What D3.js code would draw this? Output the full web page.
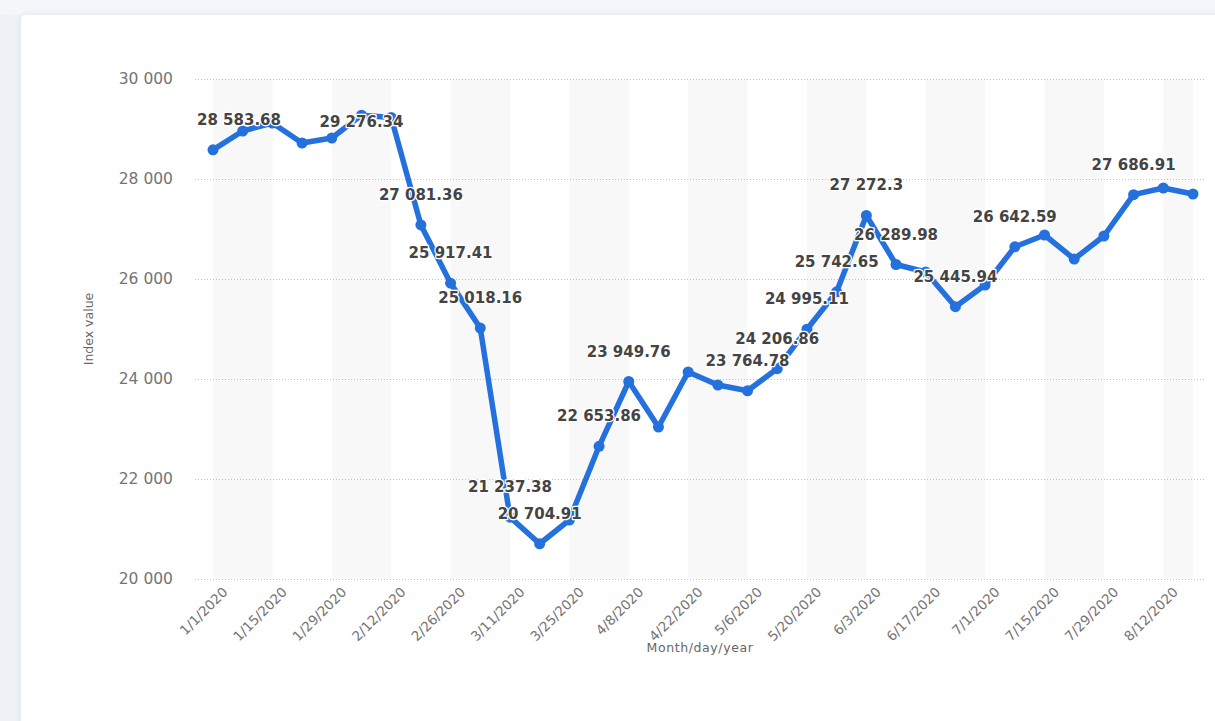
<!DOCTYPE html>
<html>
<head>
<meta charset="utf-8">
<script src="https://cdn.jsdelivr.net/npm/d3@7"></script>
<style>
  body { margin: 0; background: #eef2f7; }
  svg { display: block; }
</style>
</head>
<body>
<div id="my_dataviz"></div>
<script>
// weekly observations, 2020
var dates = ["1/1/2020","1/8/2020","1/15/2020","1/22/2020","1/29/2020","2/5/2020","2/12/2020","2/19/2020",
  "2/26/2020","3/4/2020","3/11/2020","3/18/2020","3/25/2020","4/1/2020","4/8/2020","4/15/2020",
  "4/22/2020","4/29/2020","5/6/2020","5/13/2020","5/20/2020","5/27/2020","6/3/2020","6/10/2020",
  "6/17/2020","6/24/2020","7/1/2020","7/8/2020","7/15/2020","7/22/2020","7/29/2020","8/5/2020",
  "8/12/2020","8/19/2020"];
var values = [28583.68, 28960, 29120, 28720, 28820, 29276.34, 29230, 27081.36,
  25917.41, 25018.16, 21237.38, 20704.91, 21180, 22653.86, 23949.76, 23040,
  24140, 23880, 23764.78, 24206.86, 24995.11, 25742.65, 27272.3, 26289.98,
  26140, 25445.94, 25880, 26642.59, 26880, 26400, 26860, 27686.91,
  27820, 27700];
// points whose value label is visible
var labeled = [0, 5, 7, 8, 9, 10, 11, 13, 14, 18, 19, 20, 21, 22, 23, 25, 27, 31];
var tickLabels = ["1/1/2020","1/15/2020","1/29/2020","2/12/2020","2/26/2020","3/11/2020","3/25/2020",
  "4/8/2020","4/22/2020","5/6/2020","5/20/2020","6/3/2020","6/17/2020","7/1/2020","7/15/2020",
  "7/29/2020","8/12/2020"];
var yTicks = [20000, 22000, 24000, 26000, 28000, 30000];

var W = 1215, H = 721;
var plot = {left: 195, right: 1205, top: 79, bottom: 579};
var font = "'DejaVu Sans', sans-serif";
var blue = "#2471dd";

var svg = d3.select("#my_dataviz")
  .append("svg")
  .attr("width", W)
  .attr("height", H);

var defs = svg.append("defs");
var f = defs.append("filter").attr("id", "shadow").attr("x", "-5%").attr("y", "-5%")
  .attr("width", "110%").attr("height", "110%");
f.append("feDropShadow").attr("dx", 0).attr("dy", 0).attr("stdDeviation", 3)
  .attr("flood-color", "#9aa8bb").attr("flood-opacity", 0.25);

svg.append("rect").attr("width", W).attr("height", H).attr("fill", "#eef2f7");
svg.append("rect").attr("width", W).attr("height", 15).attr("fill", "#f4f6f9");
// card
svg.append("rect")
  .attr("x", 21).attr("y", 15)
  .attr("width", W).attr("height", H)
  .attr("rx", 4)
  .attr("fill", "#ffffff")
  .attr("filter", "url(#shadow)");

var x = d3.scalePoint()
  .domain(dates)
  .range([213, 1193]);

var y = d3.scaleLinear()
  .domain([20000, 30000])
  .range([plot.bottom, plot.top]);

// alternating column bands between labelled ticks
var bandG = svg.append("g");
tickLabels.forEach(function(t, k) {
  if (k % 2 !== 0) return;
  var x0 = x(t);
  var x1 = k + 1 < tickLabels.length ? x(tickLabels[k + 1]) : x(dates[dates.length - 1]);
  bandG.append("rect")
    .attr("x", x0).attr("y", plot.top)
    .attr("width", x1 - x0).attr("height", plot.bottom - plot.top)
    .attr("fill", "#f8f8f9");
});

// y gridlines + labels
var yAxis = svg.append("g")
  .attr("transform", "translate(" + plot.left + ",0)")
  .call(d3.axisLeft(y)
    .tickValues(yTicks)
    .tickSize(-(plot.right - plot.left))
    .tickPadding(22)
    .tickFormat(function(d) { return d3.format(",")(d).replace(/,/g, " "); }));
yAxis.select(".domain").remove();
yAxis.selectAll(".tick line")
  .attr("stroke", "#c4c4c4")
  .attr("stroke-dasharray", "1,2");
yAxis.selectAll(".tick text")
  .attr("fill", "#747474")
  .style("font-family", font)
  .style("font-size", "15.5px");

// x tick labels
var xAxis = svg.append("g")
  .attr("transform", "translate(0," + plot.bottom + ")")
  .call(d3.axisBottom(x).tickValues(tickLabels).tickSize(0).tickPadding(0));
xAxis.select(".domain").remove();
xAxis.selectAll(".tick text")
  .attr("fill", "#747474")
  .attr("text-anchor", "end")
  .attr("dy", 0)
  .attr("y", 0)
  .attr("transform", "translate(15,14) rotate(-45)")
  .style("font-family", font)
  .style("font-size", "13.5px");

// axis titles
svg.append("text")
  .attr("x", (plot.left + plot.right) / 2)
  .attr("y", 652)
  .attr("text-anchor", "middle")
  .style("font-family", font)
  .style("font-size", "12.5px")
  .style("letter-spacing", "0.6px")
  .attr("fill", "#666")
  .text("Month/day/year");

svg.append("text")
  .attr("transform", "translate(93," + (plot.top + plot.bottom) / 2 + ") rotate(-90)")
  .attr("text-anchor", "middle")
  .style("font-family", font)
  .style("font-size", "12.5px")
  .attr("fill", "#666")
  .text("Index value");

// line
var line = d3.line()
  .x(function(d, i) { return x(dates[i]); })
  .y(function(d) { return y(d); });

svg.append("path")
  .datum(values)
  .attr("d", line)
  .attr("fill", "none")
  .attr("stroke", blue)
  .attr("stroke-width", 5.5)
  .attr("stroke-linejoin", "round")
  .attr("stroke-linecap", "round");

svg.selectAll(".dot")
  .data(values)
  .enter().append("circle")
  .attr("class", "dot")
  .attr("cx", function(d, i) { return x(dates[i]); })
  .attr("cy", function(d) { return y(d); })
  .attr("r", 5.5)
  .attr("fill", blue);

// value labels
function fmt(v) {
  var parts = String(v).split(".");
  return parts[0].replace(/\B(?=(\d{3})+(?!\d))/g, " ") + (parts[1] ? "." + parts[1] : "");
}

var lbl = svg.append("g");
labeled.forEach(function(i) {
  var px = x(dates[i]), py = y(values[i]);
  var t = lbl.append("text")
    .attr("text-anchor", "middle")
    .style("font-family", font)
    .style("font-size", "15px")
    .style("font-weight", "bold")
    .attr("fill", "#444444")
    .attr("stroke", "#ffffff")
    .attr("stroke-width", 2.5)
    .attr("paint-order", "stroke")
    .attr("stroke-linejoin", "round")
    .text(fmt(values[i]));
  var w = t.node().getComputedTextLength();
  var cx = px;
  if (cx - w / 2 < plot.left + 2) cx = plot.left + 2 + w / 2;
  if (cx + w / 2 > plot.right) cx = plot.right - w / 2;
  var by = py - 25;
  if (by - 14 < plot.top) by = py + 12;
  t.attr("x", cx).attr("y", by);
});
</script>
</body>
</html>
